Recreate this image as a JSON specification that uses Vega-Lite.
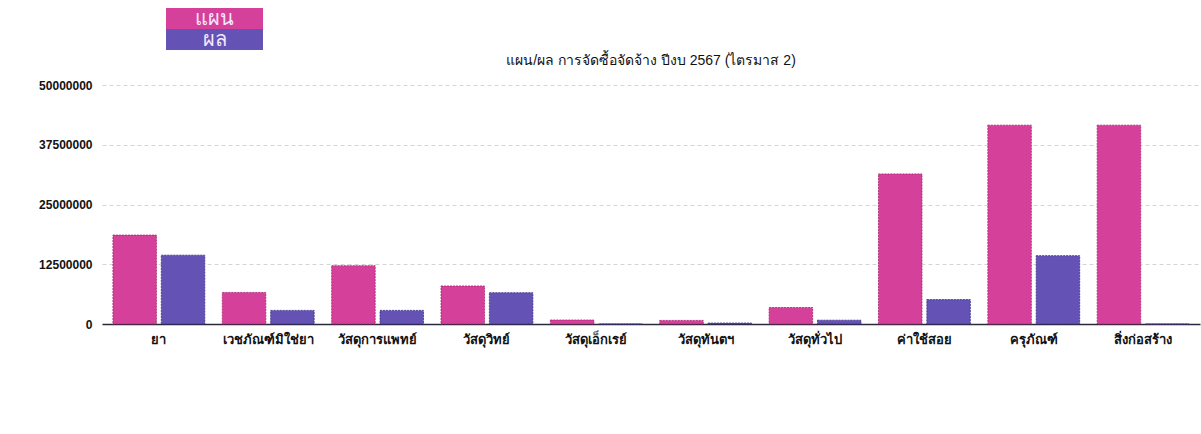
{
  "$schema": "https://vega.github.io/schema/vega-lite/v6.json",
  "width": 1098,
  "height": 239,
  "autosize": {"type": "none"},
  "padding": {"left": 102, "top": 85, "right": 1, "bottom": 110},
  "background": "white",
  "title": {
    "text": "แผน/ผล การจัดซื้อจัดจ้าง ปีงบ 2567 (ไตรมาส 2)",
    "anchor": "middle",
    "font": "Liberation Sans",
    "fontSize": 14,
    "fontWeight": "normal",
    "color": "#111111",
    "offset": 0,
    "dy": 60
  },
  "data": {
    "values": [
      {"category": "ยา", "series": "แผน", "value": 18600000},
      {"category": "ยา", "series": "ผล", "value": 14400000},
      {"category": "เวชภัณฑ์มิใช่ยา", "series": "แผน", "value": 6600000},
      {"category": "เวชภัณฑ์มิใช่ยา", "series": "ผล", "value": 2850000},
      {"category": "วัสดุการแพทย์", "series": "แผน", "value": 12200000},
      {"category": "วัสดุการแพทย์", "series": "ผล", "value": 2850000},
      {"category": "วัสดุวิทย์", "series": "แผน", "value": 7950000},
      {"category": "วัสดุวิทย์", "series": "ผล", "value": 6550000},
      {"category": "วัสดุเอ็กเรย์", "series": "แผน", "value": 840000},
      {"category": "วัสดุเอ็กเรย์", "series": "ผล", "value": 0},
      {"category": "วัสดุทันตฯ", "series": "แผน", "value": 750000},
      {"category": "วัสดุทันตฯ", "series": "ผล", "value": 200000},
      {"category": "วัสดุทั่วไป", "series": "แผน", "value": 3450000},
      {"category": "วัสดุทั่วไป", "series": "ผล", "value": 800000},
      {"category": "ค่าใช้สอย", "series": "แผน", "value": 31400000},
      {"category": "ค่าใช้สอย", "series": "ผล", "value": 5100000},
      {"category": "ครุภัณฑ์", "series": "แผน", "value": 41600000},
      {"category": "ครุภัณฑ์", "series": "ผล", "value": 14300000},
      {"category": "สิ่งก่อสร้าง", "series": "แผน", "value": 41600000},
      {"category": "สิ่งก่อสร้าง", "series": "ผล", "value": 0}
    ]
  },
  "mark": {"type": "bar", "strokeWidth": 0.8, "strokeDash": [2, 1]},
  "encoding": {
    "x": {
      "field": "category",
      "type": "nominal",
      "sort": null,
      "title": null,
      "scale": {"paddingInner": 0.16, "paddingOuter": 0.1},
      "axis": {
        "labelAngle": 0,
        "labelFont": "Liberation Sans",
        "labelFontSize": 13,
        "labelFontWeight": "bold",
        "labelColor": "#111111",
        "labelPadding": 9,
        "ticks": false,
        "domainColor": "#2a2a3a",
        "domainWidth": 1.5
      }
    },
    "xOffset": {
      "field": "series",
      "type": "nominal",
      "sort": ["แผน", "ผล"],
      "scale": {"paddingInner": 0.1}
    },
    "y": {
      "field": "value",
      "type": "quantitative",
      "title": null,
      "scale": {"domain": [0, 50000000], "nice": false},
      "axis": {
        "values": [0, 12500000, 25000000, 37500000, 50000000],
        "format": "d",
        "domain": false,
        "ticks": false,
        "labelFont": "Liberation Sans",
        "labelFontSize": 12,
        "labelFontWeight": "bold",
        "labelColor": "#111111",
        "labelPadding": 10,
        "gridColor": "#d4d4d4",
        "gridDash": [4, 3],
        "gridWidth": 1
      }
    },
    "color": {
      "field": "series",
      "type": "nominal",
      "sort": ["แผน", "ผล"],
      "scale": {"domain": ["แผน", "ผล"], "range": ["#d5409a", "#6452b4"]},
      "legend": {
        "title": null,
        "orient": "none",
        "legendX": 102,
        "legendY": -77,
        "padding": 0,
        "symbolType": "M-4.619,-1H4.619V1H-4.619Z",
        "symbolSize": 441,
        "symbolStrokeWidth": 0,
        "symbolOpacity": 1,
        "rowPadding": 0,
        "labelAlign": "center",
        "labelOffset": -10.5,
        "labelColor": "#f4e8ff",
        "labelFontSize": 20,
        "labelFont": "Liberation Sans"
      }
    },
    "stroke": {
      "field": "series",
      "type": "nominal",
      "scale": {"domain": ["แผน", "ผล"], "range": ["#a8206e", "#3c2c8a"]},
      "legend": null
    }
  },
  "config": {
    "view": {"stroke": null},
    "axis": {"gridOpacity": 1}
  }
}
